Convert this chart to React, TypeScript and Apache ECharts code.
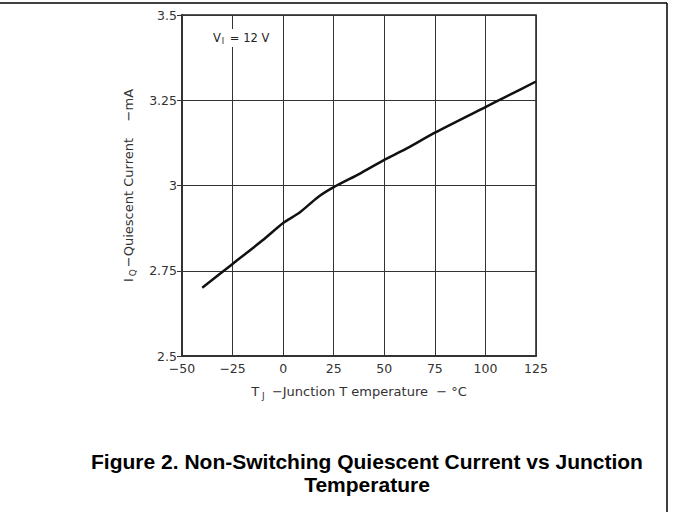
import React, { useEffect, useRef } from "react";
import * as echarts from "echarts";

const temperatures: number[] = [-40, -25, -10, 0, 8, 17, 25, 38, 50, 60, 75, 100, 110, 125];
const currents: number[] = [2.70, 2.77, 2.84, 2.89, 2.92, 2.965, 2.995, 3.035, 3.075, 3.105, 3.155, 3.23, 3.26, 3.305];
const xTicks = { min: -50, max: 125, interval: 25 };
const yTicks = { min: 2.5, max: 3.5, interval: 0.25 };

export default function App() {
  const ref = useRef<HTMLDivElement>(null);
  useEffect(() => {
    if (!ref.current) return;
    const chart = echarts.init(ref.current, null, { renderer: "svg" });
    const axisFont = "'DejaVu Sans', Verdana, sans-serif";
    chart.setOption({
      animation: false,
      backgroundColor: "#ffffff",
      grid: {
        left: 182,
        right: 137,
        top: 15,
        bottom: 156,
        show: true,
        borderColor: "#222",
        borderWidth: 1.5,
        backgroundColor: "transparent",
      },
      title: {
        text: "Figure 2. Non-Switching Quiescent Current vs Junction\nTemperature",
        left: 367,
        top: 450,
        padding: 0,
        textAlign: "center",
        textStyle: {
          fontFamily: "'Liberation Sans', Arial, sans-serif",
          fontWeight: "bold",
          fontSize: 21,
          lineHeight: 23,
          color: "#000",
        },
      },
      xAxis: {
        type: "value",
        min: xTicks.min,
        max: xTicks.max,
        interval: xTicks.interval,
        name: "{m|T}{s|J}{m| −Junction T emperature  − °C}",
        nameLocation: "middle",
        nameGap: 27,
        nameTextStyle: {
          rich: {
            m: { fontFamily: axisFont, fontSize: 13, color: "#333" },
            s: { fontFamily: axisFont, fontSize: 9, color: "#333", padding: [8, 3, 0, 3] },
          },
        },
        axisLine: { show: true, onZero: false, lineStyle: { color: "#333", width: 2 } },
        axisTick: { show: false },
        axisLabel: {
          margin: 6,
          fontFamily: axisFont,
          fontSize: 12.5,
          color: "#333",
          formatter: (v: number) => String(v).replace("-", "−"),
        },
        splitLine: { show: true, lineStyle: { color: "#333", width: 1 } },
      },
      yAxis: {
        type: "value",
        min: yTicks.min,
        max: yTicks.max,
        interval: yTicks.interval,
        name: "{m|I}{s|Q}{m|−Quiescent Current    −mA}",
        nameLocation: "middle",
        nameGap: 45,
        nameRotate: 90,
        nameTextStyle: {
          rich: {
            m: { fontFamily: axisFont, fontSize: 13, color: "#333" },
            s: { fontFamily: axisFont, fontSize: 9, color: "#333", padding: [8, 2, 0, 2] },
          },
        },
        axisLine: { show: true, onZero: false, lineStyle: { color: "#333", width: 2 } },
        axisTick: { show: true, inside: false, length: 5, lineStyle: { color: "#333", width: 1 } },
        axisLabel: {
          margin: 5,
          fontFamily: axisFont,
          fontSize: 12.5,
          color: "#333",
        },
        splitLine: { show: true, lineStyle: { color: "#333", width: 1 } },
      },
      series: [
        {
          type: "line",
          data: temperatures.map((t, i) => [t, currents[i]]),
          showSymbol: false,
          smooth: 0.2,
          lineStyle: { color: "#111", width: 2.5 },
          z: 5,
        },
      ],
      graphic: [
        {
          type: "line",
          shape: { x1: 0, y1: 3, x2: 667, y2: 3 },
          style: { stroke: "#000", lineWidth: 1.5 },
        },
        {
          type: "line",
          shape: { x1: 667, y1: 3, x2: 667, y2: 512 },
          style: { stroke: "#000", lineWidth: 1.5 },
        },
        {
          type: "text",
          x: 212,
          y: 29,
          z: 10,
          style: {
            text: "{m|V}{s|I}{m| = 12 V}",
            backgroundColor: "#fff",
            padding: [2, 1, 2, 1],
            rich: {
              m: { fontFamily: axisFont, fontSize: 11.5, fill: "#222" },
              s: { fontFamily: axisFont, fontSize: 8, fill: "#222", padding: [6, 2, 0, 1] },
            },
          },
        },
      ],
    });
    return () => chart.dispose();
  }, []);
  return (
    <div
      ref={ref}
      style={{ position: "fixed", left: 0, top: 0, width: 673, height: 512 }}
    />
  );
}
